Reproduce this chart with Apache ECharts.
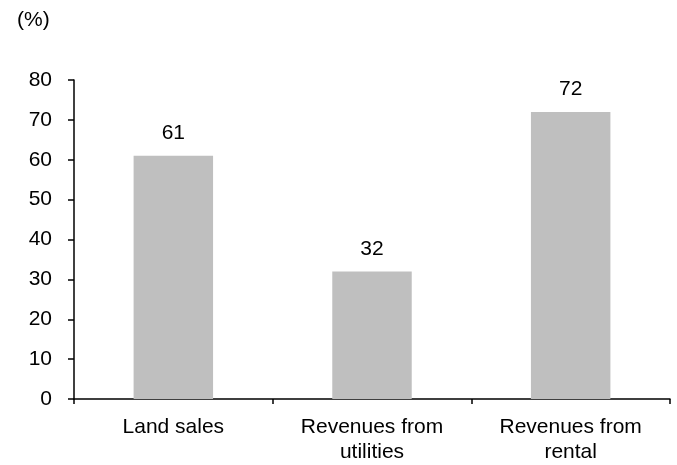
<!DOCTYPE html>
<html><head><meta charset="utf-8">
<script src="https://cdn.jsdelivr.net/npm/echarts@6/dist/echarts.min.js"></script>
<style>html,body{margin:0;padding:0;background:#fff}#c{width:677px;height:465px}</style>
</head><body><div id="c"></div>
<script>
const categories = ['Land sales', 'Revenues from\nutilities', 'Revenues from\nrental'];
const values = [61, 32, 72];
const unitLabel = '(%)';
const yMin = 0, yMax = 80, yStep = 10;

const font = 'Liberation Sans, Arial, sans-serif';
const fs = 21;
const chart = echarts.init(document.getElementById('c'));
chart.setOption({
  animation: false,
  backgroundColor: '#fff',
  title: { text: unitLabel, left: 12, top: 5, textStyle: { fontFamily: font, fontSize: fs, fontWeight: 'normal', color: '#000' } },
  grid: { left: 74, right: 7, top: 80, bottom: 64 },
  xAxis: {
    type: 'category', data: categories,
    axisLine: { lineStyle: { color: '#000', width: 1.5 } },
    axisTick: { show: true, length: 5, lineStyle: { color: '#000', width: 1.5 } },
    axisLabel: { color: '#000', fontFamily: font, fontSize: fs, margin: 16, lineHeight: 25, interval: 0 }
  },
  yAxis: {
    type: 'value', min: yMin, max: yMax, interval: yStep,
    axisLine: { show: true, lineStyle: { color: '#000', width: 1.5 } },
    axisTick: { show: true, length: 6, lineStyle: { color: '#000', width: 1.5 } },
    splitLine: { show: false },
    axisLabel: { color: '#000', fontFamily: font, fontSize: fs, margin: 22 }
  },
  series: [{
    type: 'bar', data: values, barWidth: '40%',
    itemStyle: { color: '#bfbfbf' },
    label: { show: true, position: 'top', distance: 12, color: '#000', fontFamily: font, fontSize: fs }
  }]
});
</script></body></html>
